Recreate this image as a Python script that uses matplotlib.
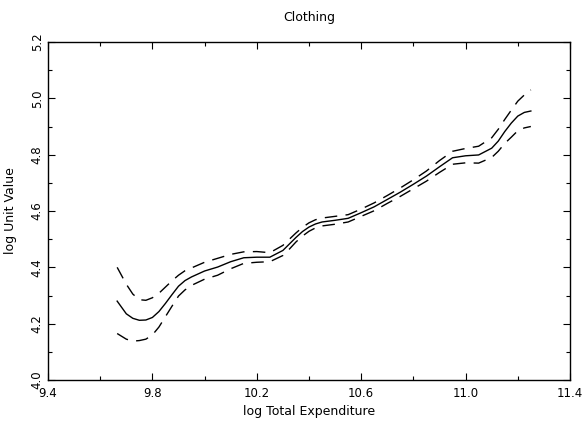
import matplotlib
matplotlib.use("Agg")
import matplotlib.pyplot as plt
from matplotlib.ticker import MultipleLocator

log_exp = [9.665, 9.70, 9.725, 9.75, 9.775, 9.80, 9.825, 9.85, 9.875, 9.90, 9.925, 9.95,
           10.00, 10.05, 10.10, 10.15, 10.20, 10.25, 10.30, 10.325, 10.35, 10.375, 10.40,
           10.425, 10.45, 10.50, 10.55, 10.60, 10.65, 10.70, 10.75, 10.80, 10.85, 10.90,
           10.95, 11.00, 11.05, 11.10, 11.125, 11.15, 11.175, 11.20, 11.225, 11.25]
fit = [4.28, 4.235, 4.219, 4.212, 4.213, 4.222, 4.243, 4.272, 4.303, 4.333, 4.353, 4.366,
       4.387, 4.401, 4.42, 4.434, 4.436, 4.436, 4.46, 4.483, 4.506, 4.527, 4.543,
       4.554, 4.561, 4.567, 4.574, 4.594, 4.615, 4.641, 4.667, 4.695, 4.724, 4.757,
       4.789, 4.796, 4.799, 4.823, 4.848, 4.882, 4.912, 4.937, 4.95, 4.955]
upper = [4.40, 4.34, 4.305, 4.285, 4.283, 4.292, 4.308, 4.33, 4.352, 4.372, 4.388, 4.398,
         4.418, 4.432, 4.446, 4.455, 4.456, 4.452, 4.478, 4.50, 4.522, 4.542, 4.558,
         4.569, 4.575, 4.581, 4.587, 4.607, 4.629, 4.655, 4.682, 4.711, 4.742, 4.779,
         4.812, 4.822, 4.83, 4.86, 4.89, 4.925, 4.958, 4.99, 5.012, 5.03]
lower = [4.165, 4.145, 4.138, 4.14, 4.145, 4.16, 4.188, 4.225, 4.262, 4.298, 4.32, 4.336,
         4.358, 4.372, 4.395, 4.414, 4.418, 4.42, 4.442, 4.465, 4.49, 4.511, 4.528,
         4.54, 4.547, 4.553, 4.561, 4.581, 4.601, 4.627, 4.652, 4.679, 4.706, 4.737,
         4.766, 4.771, 4.77, 4.79, 4.812, 4.84, 4.862, 4.885, 4.895, 4.90]

x_ticks = [9.4, 9.8, 10.2, 10.6, 11.0, 11.4]
x_ticklabels = ["9.4", "9.8", "10.2", "10.6", "11.0", "11.4"]
y_ticks = [4.0, 4.2, 4.4, 4.6, 4.8, 5.0, 5.2]
y_ticklabels = ["4.0", "4.2", "4.4", "4.6", "4.8", "5.0", "5.2"]

plt.rcParams['font.family'] = ['DejaVu Sans']
fig = plt.figure(figsize=(5.88, 4.28), dpi=100)
ax = fig.add_axes([48/588, 1-380/428, (570-48)/588, (380-42)/428])

ax.plot(log_exp, fit, color='black', lw=1.0)
ax.plot(log_exp, upper, color='black', lw=1.0, dashes=(9, 6))
ax.plot(log_exp, lower, color='black', lw=1.0, dashes=(9, 6))

ax.set_xlim(9.4, 11.4)
ax.set_ylim(4.0, 5.2)
ax.set_xticks(x_ticks)
ax.set_xticklabels(x_ticklabels)
ax.set_yticks(y_ticks)
ax.set_yticklabels(y_ticklabels, rotation=90, va='center')
ax.xaxis.set_minor_locator(MultipleLocator(0.2))
ax.yaxis.set_minor_locator(MultipleLocator(0.1))
ax.tick_params(which='both', direction='in', top=True, right=True, labelsize=8.5, width=0.8)
ax.tick_params(which='major', length=5)
ax.tick_params(axis='x', which='major', pad=5)
ax.tick_params(axis='y', which='major', pad=3)
ax.tick_params(which='minor', length=3)
for s in ax.spines.values():
    s.set_linewidth(1.0)

ax.set_title("Clothing", fontsize=9, pad=15)
ax.set_xlabel("log Total Expenditure", fontsize=9, labelpad=4)
ax.set_ylabel("log Unit Value", fontsize=9, labelpad=10)

fig.savefig("out.png", dpi=100)
